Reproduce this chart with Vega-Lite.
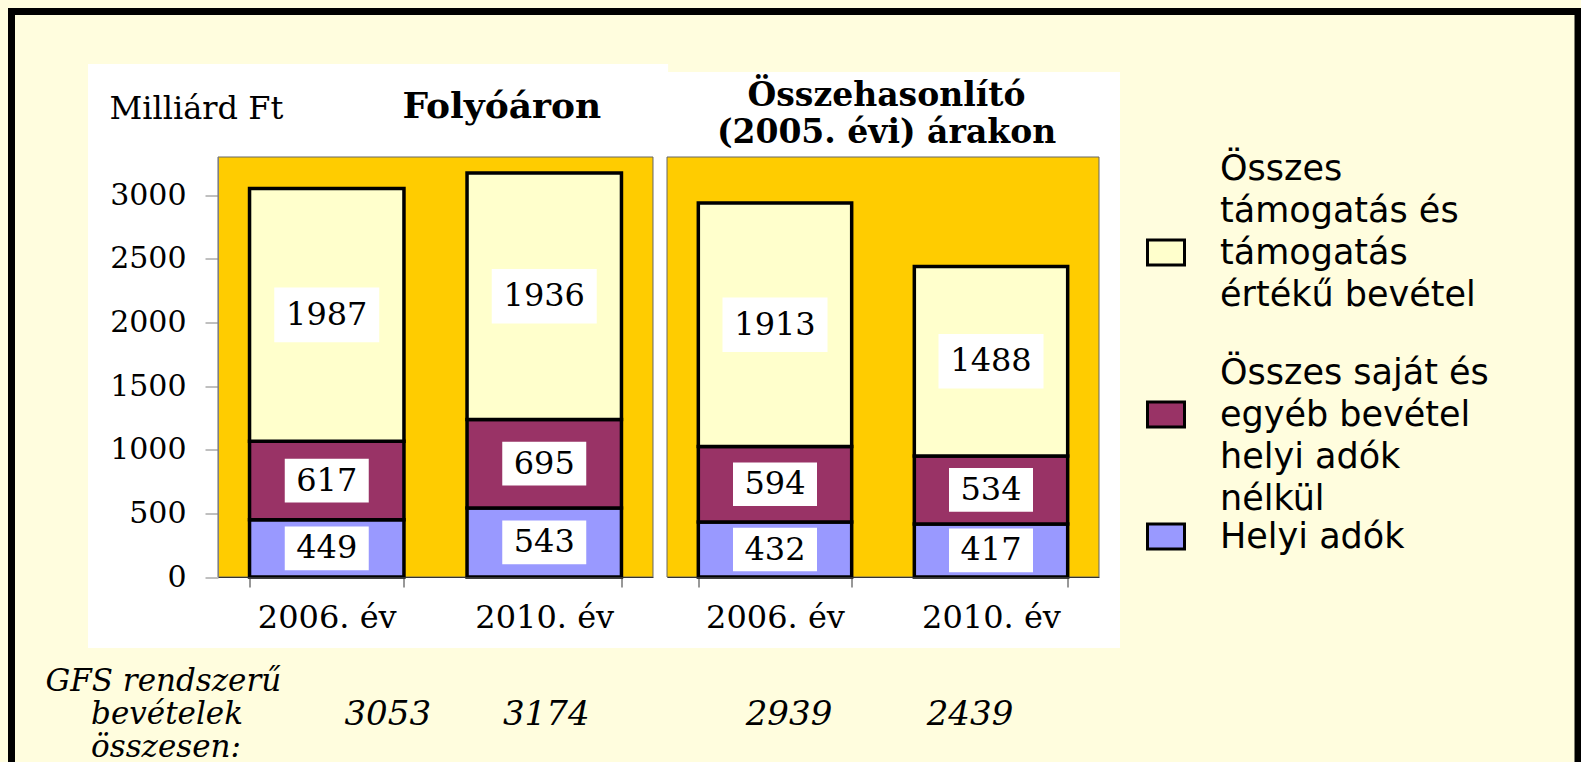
{
  "$schema": "https://vega.github.io/schema/vega-lite/v6.json",
  "width": 1566.5,
  "height": 754.5,
  "autosize": "none",
  "padding": {"left": 11.5, "top": 11.5, "right": 3, "bottom": -4},
  "background": "#FFFDDE",
  "view": {"fill": "#FFFDDE", "stroke": "black", "strokeWidth": 7},
  "title": {
    "text": "Folyóáron",
    "orient": "top",
    "anchor": "start",
    "frame": "group",
    "dx": 391,
    "offset": -142,
    "baseline": "alphabetic",
    "font": "DejaVu Serif",
    "fontWeight": "bold",
    "fontSize": 36,
    "color": "black",
    "zindex": 2
  },
  "datasets": {
    "segments": [
      {"panel": "Folyóáron", "year": "2006. év", "cat": "Helyi adók", "value": 449},
      {"panel": "Folyóáron", "year": "2006. év", "cat": "Összes saját és egyéb bevétel helyi adók nélkül", "value": 617},
      {"panel": "Folyóáron", "year": "2006. év", "cat": "Összes támogatás és támogatás értékű bevétel", "value": 1987},
      {"panel": "Folyóáron", "year": "2010. év", "cat": "Helyi adók", "value": 543},
      {"panel": "Folyóáron", "year": "2010. év", "cat": "Összes saját és egyéb bevétel helyi adók nélkül", "value": 695},
      {"panel": "Folyóáron", "year": "2010. év", "cat": "Összes támogatás és támogatás értékű bevétel", "value": 1936},
      {"panel": "Összehasonlító (2005. évi) árakon", "year": "2006. év", "cat": "Helyi adók", "value": 432},
      {"panel": "Összehasonlító (2005. évi) árakon", "year": "2006. év", "cat": "Összes saját és egyéb bevétel helyi adók nélkül", "value": 594},
      {"panel": "Összehasonlító (2005. évi) árakon", "year": "2006. év", "cat": "Összes támogatás és támogatás értékű bevétel", "value": 1913},
      {"panel": "Összehasonlító (2005. évi) árakon", "year": "2010. év", "cat": "Helyi adók", "value": 417},
      {"panel": "Összehasonlító (2005. évi) árakon", "year": "2010. év", "cat": "Összes saját és egyéb bevétel helyi adók nélkül", "value": 534},
      {"panel": "Összehasonlító (2005. évi) árakon", "year": "2010. év", "cat": "Összes támogatás és támogatás értékű bevétel", "value": 1488}
    ]
  },
  "layer": [
    {
      "data": {"name": "segments"},
      "transform": [{"filter": {"field": "panel", "equal": "Folyóáron"}}],
      "encoding": {
        "x": {
          "field": "year", "type": "nominal",
          "scale": {"type": "band", "range": [206.5, 641.5], "paddingInner": 0.29, "paddingOuter": 0.145},
          "axis": {
            "orient": "bottom", "offset": -189, "zindex": 1,
            "tickBand": "extent", "tickSize": 10, "tickColor": "#333333", "domainColor": "#333333",
            "labelFont": "DejaVu Serif", "labelFontSize": 32, "labelColor": "black", "labelPadding": 77, "labelAngle": 0, "labelLimit": 400,
            "title": ["GFS rendszerű", "\u200b\u00a0\u00a0\u00a0\u00a0\u2009bevételek", "\u200b\u00a0\u00a0\u00a0\u00a0\u2009összesen:"],
            "titleFont": "DejaVu Serif", "titleFontStyle": "italic", "titleFontWeight": "normal", "titleFontSize": 31, "titleColor": "black",
            "titleAlign": "left", "titleBaseline": "alphabetic", "titleX": 33.5, "titleY": 113, "titleLineHeight": 33
          }
        }
      },
      "layer": [
        {
          "transform": [{"aggregate": [{"op": "count", "as": "n"}]}],
          "mark": {"type": "rect", "color": "white"},
          "encoding": {
            "x": {"datum": "2006. év", "type": "nominal", "bandPosition": -1.046},
            "x2": {"datum": "2010. év", "bandPosition": 1.302},
            "y": {"datum": -558, "type": "quantitative"},
            "y2": {"datum": 4031}
          }
        },
        {
          "transform": [{"aggregate": [{"op": "count", "as": "n"}]}],
          "mark": {"type": "rect", "fill": "#FFCC00", "stroke": "#666666", "strokeWidth": 1},
          "encoding": {
            "x": {"datum": "2006. év", "type": "nominal", "bandPosition": -0.2042},
            "x2": {"datum": "2010. év", "bandPosition": 1.2042},
            "y": {"datum": 0, "type": "quantitative"},
            "y2": {"datum": 3300}
          }
        },
        {
          "transform": [{"stack": "value", "groupby": ["year"], "sort": [{"field": "cat", "order": "ascending"}], "as": ["v0", "v1"]}],
          "mark": {"type": "bar", "stroke": "black", "strokeWidth": 3.5},
          "encoding": {
            "y": {
              "field": "v0", "type": "quantitative",
              "scale": {"domain": [0, 3300], "range": [565.5, 145.5], "nice": false, "zero": false},
              "axis": {
                "offset": -206.5, "zindex": 1, "values": [0, 500, 1000, 1500, 2000, 2500, 3000], "format": "d", "grid": false,
                "tickSize": 13, "tickColor": "#808080", "domainColor": "#808080",
                "labelFont": "DejaVu Serif", "labelFontSize": 30, "labelColor": "black", "labelPadding": 19, "labelOffset": 62,
                "title": "Milliárd Ft", "titleAngle": 0, "titleAlign": "left", "titleBaseline": "alphabetic",
                "titleX": -109, "titleY": 106.5, "titleFont": "DejaVu Serif", "titleFontWeight": "normal", "titleFontSize": 32, "titleColor": "black"
              }
            },
            "y2": {"field": "v1"},
            "color": {
              "field": "cat", "type": "nominal",
              "scale": {
                "domain": ["Összes támogatás és támogatás értékű bevétel", "Összes saját és egyéb bevétel helyi adók nélkül", "Helyi adók"],
                "range": ["#FFFFCC", "#993366", "#9999FF"]
              },
              "legend": {
                "orient": "none", "legendX": 1134.5, "legendY": 221, "title": null,
                "symbolType": "M-1,-0.68H1V0.68H-1Z", "symbolSize": 1369, "symbolStrokeColor": "black", "symbolStrokeWidth": 3, "symbolOpacity": 1,
                "labelFont": "DejaVu Sans", "labelFontSize": 35, "labelColor": "black", "labelOffset": 34, "labelLimit": 500, "rowPadding": -41,
                "labelBaseline": {"expr": "datum.label == 'Helyi adók' ? 'line-top' : 'line-bottom'"},
                "labelExpr": "datum.label == 'Helyi adók' ? ['', 'Helyi adók'] : datum.label == 'Összes támogatás és támogatás értékű bevétel' ? ['Összes', 'támogatás és', 'támogatás', 'értékű bevétel', ''] : ['', 'Összes saját és', 'egyéb bevétel', 'helyi adók', 'nélkül']"
              }
            }
          }
        },
        {
          "transform": [
            {"stack": "value", "groupby": ["year"], "sort": [{"field": "cat", "order": "ascending"}], "as": ["v0", "v1"]},
            {"fold": ["v0", "v1"], "as": ["edgeKey", "edge"]},
            {"aggregate": [{"op": "mean", "field": "edge", "as": "mid"}], "groupby": ["year", "cat", "value"]}
          ],
          "encoding": {"y": {"field": "mid", "type": "quantitative"}},
          "layer": [
            {
              "mark": {"type": "point", "shape": "M-1,-0.52H1V0.52H-1Z", "filled": true, "color": "white", "opacity": 1, "strokeWidth": 0},
              "encoding": {"size": {"condition": {"test": "datum.value >= 1000", "value": 11025}, "value": 7056}}
            },
            {
              "mark": {"type": "text", "font": "DejaVu Serif", "fontSize": 32, "color": "black", "baseline": "middle"},
              "encoding": {"text": {"field": "value", "type": "quantitative", "format": "d"}}
            }
          ]
        },
        {
          "transform": [{"filter": {"field": "year", "equal": "2006. év"}}, {"aggregate": [{"op": "sum", "field": "value", "as": "total"}], "groupby": ["year"]}],
          "mark": {"type": "text", "font": "DejaVu Serif", "fontStyle": "italic", "fontSize": 34, "color": "black", "baseline": "alphabetic", "dx": 61},
          "encoding": {
            "y": {"datum": -1160, "type": "quantitative"},
            "text": {"field": "total", "type": "quantitative", "format": "d"}
          }
        },
        {
          "transform": [{"filter": {"field": "year", "equal": "2010. év"}}, {"aggregate": [{"op": "sum", "field": "value", "as": "total"}], "groupby": ["year"]}],
          "mark": {"type": "text", "font": "DejaVu Serif", "fontStyle": "italic", "fontSize": 34, "color": "black", "baseline": "alphabetic", "dx": 2},
          "encoding": {
            "y": {"datum": -1160, "type": "quantitative"},
            "text": {"field": "total", "type": "quantitative", "format": "d"}
          }
        }
      ]
    },
    {
      "data": {"name": "segments"},
      "transform": [{"filter": {"field": "panel", "equal": "Összehasonlító (2005. évi) árakon"}}],
      "encoding": {
        "x": {
          "field": "year", "type": "nominal",
          "scale": {"type": "band", "range": [655.5, 1087.5], "paddingInner": 0.29, "paddingOuter": 0.145},
          "axis": {
            "orient": "bottom", "offset": -189, "zindex": 1,
            "tickBand": "extent", "tickSize": 10, "tickColor": "#333333", "domainColor": "#333333",
            "labelFont": "DejaVu Serif", "labelFontSize": 32, "labelColor": "black", "labelPadding": 77, "labelAngle": 0, "labelLimit": 400,
            "title": ["Összehasonlító", "(2005. évi) árakon"],
            "titleFont": "DejaVu Serif", "titleFontWeight": "bold", "titleFontSize": 33, "titleColor": "black",
            "titleAlign": "center", "titleBaseline": "alphabetic", "titleX": 874.5, "titleY": -472, "titleLineHeight": 37
          }
        }
      },
      "layer": [
        {
          "transform": [{"aggregate": [{"op": "count", "as": "n"}]}],
          "mark": {"type": "rect", "color": "white"},
          "encoding": {
            "x": {"datum": "2006. év", "type": "nominal", "bandPosition": -0.2499},
            "x2": {"datum": "2010. év", "bandPosition": 1.3412},
            "y": {"datum": -558, "type": "quantitative"},
            "y2": {"datum": 3968}
          }
        },
        {
          "transform": [{"aggregate": [{"op": "count", "as": "n"}]}],
          "mark": {"type": "rect", "fill": "#FFCC00", "stroke": "#666666", "strokeWidth": 1},
          "encoding": {
            "x": {"datum": "2006. év", "type": "nominal", "bandPosition": -0.2042},
            "x2": {"datum": "2010. év", "bandPosition": 1.2042},
            "y": {"datum": 0, "type": "quantitative"},
            "y2": {"datum": 3300}
          }
        },
        {
          "transform": [{"stack": "value", "groupby": ["year"], "sort": [{"field": "cat", "order": "ascending"}], "as": ["v0", "v1"]}],
          "mark": {"type": "bar", "stroke": "black", "strokeWidth": 3.5},
          "encoding": {
            "y": {"field": "v0", "type": "quantitative"},
            "y2": {"field": "v1"},
            "color": {"field": "cat", "type": "nominal"}
          }
        },
        {
          "transform": [
            {"stack": "value", "groupby": ["year"], "sort": [{"field": "cat", "order": "ascending"}], "as": ["v0", "v1"]},
            {"fold": ["v0", "v1"], "as": ["edgeKey", "edge"]},
            {"aggregate": [{"op": "mean", "field": "edge", "as": "mid"}], "groupby": ["year", "cat", "value"]}
          ],
          "encoding": {"y": {"field": "mid", "type": "quantitative"}},
          "layer": [
            {
              "mark": {"type": "point", "shape": "M-1,-0.52H1V0.52H-1Z", "filled": true, "color": "white", "opacity": 1, "strokeWidth": 0},
              "encoding": {"size": {"condition": {"test": "datum.value >= 1000", "value": 11025}, "value": 7056}}
            },
            {
              "mark": {"type": "text", "font": "DejaVu Serif", "fontSize": 32, "color": "black", "baseline": "middle"},
              "encoding": {"text": {"field": "value", "type": "quantitative", "format": "d"}}
            }
          ]
        },
        {
          "transform": [{"filter": {"field": "year", "equal": "2006. év"}}, {"aggregate": [{"op": "sum", "field": "value", "as": "total"}], "groupby": ["year"]}],
          "mark": {"type": "text", "font": "DejaVu Serif", "fontStyle": "italic", "fontSize": 34, "color": "black", "baseline": "alphabetic", "dx": 14},
          "encoding": {
            "y": {"datum": -1160, "type": "quantitative"},
            "text": {"field": "total", "type": "quantitative", "format": "d"}
          }
        },
        {
          "transform": [{"filter": {"field": "year", "equal": "2010. év"}}, {"aggregate": [{"op": "sum", "field": "value", "as": "total"}], "groupby": ["year"]}],
          "mark": {"type": "text", "font": "DejaVu Serif", "fontStyle": "italic", "fontSize": 34, "color": "black", "baseline": "alphabetic", "dx": -21},
          "encoding": {
            "y": {"datum": -1160, "type": "quantitative"},
            "text": {"field": "total", "type": "quantitative", "format": "d"}
          }
        }
      ]
    }
  ],
  "resolve": {"scale": {"x": "independent"}, "axis": {"x": "independent"}},
  "config": {
    "style": {"guide-label": {"lineHeight": 42, "dy": -62}}
  }
}
